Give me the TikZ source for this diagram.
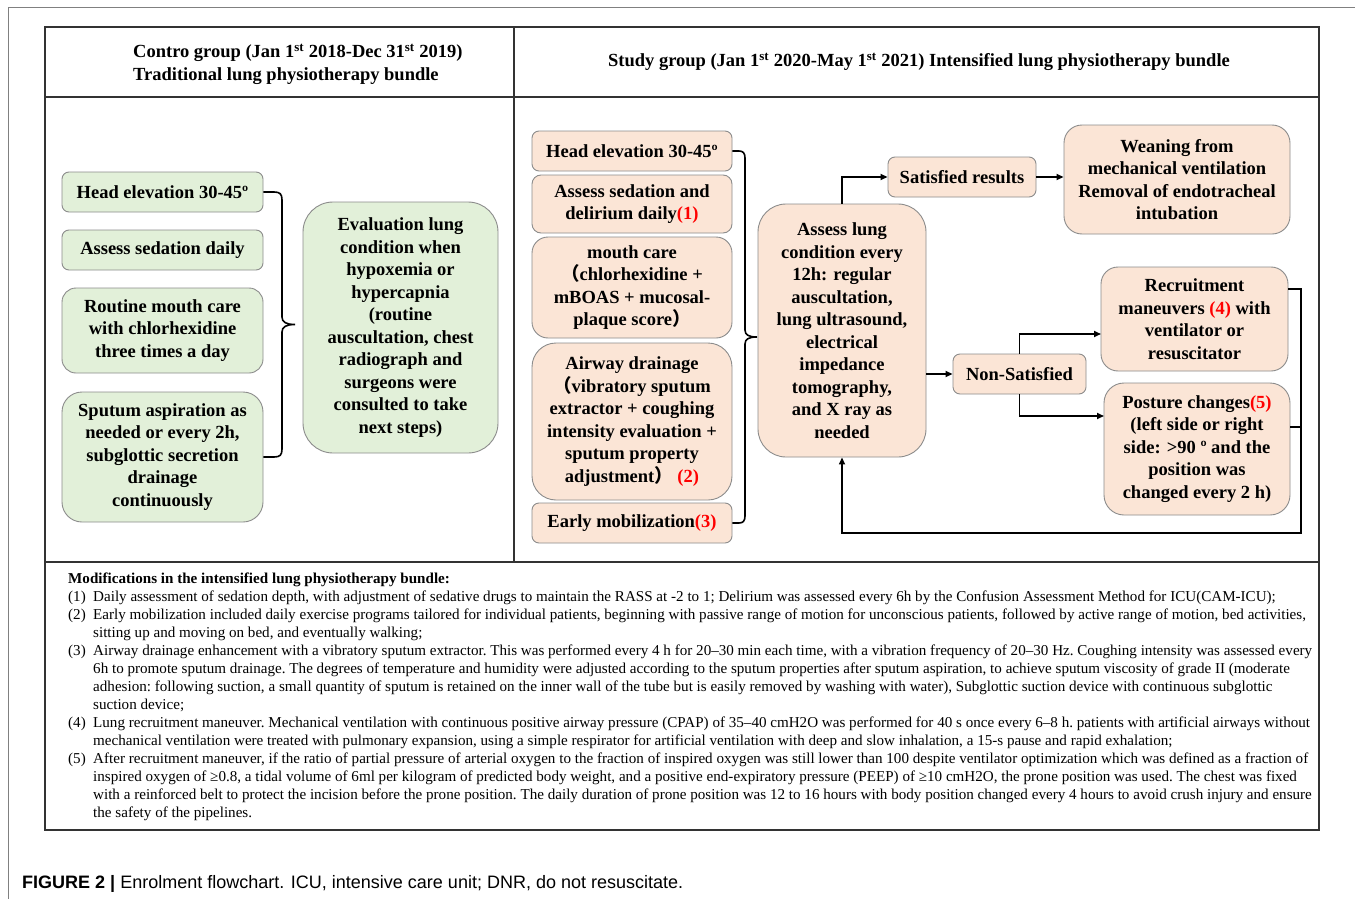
\documentclass[tikz,border=0pt]{standalone}
\usepackage{fontspec}
\setmainfont{Liberation Serif}
\newfontfamily\capfont{Liberation Sans}
\newfontfamily\cjkfont{Noto Sans CJK SC}
\usetikzlibrary{arrows.meta,calc}
\definecolor{gfill}{HTML}{E2F0D9}
\definecolor{pfill}{HTML}{FBE5D6}
\definecolor{bgray}{HTML}{8C8C8C}
\definecolor{numred}{HTML}{FF0000}
\definecolor{tblline}{HTML}{333333}
\newcommand{\rednum}[1]{\textcolor{numred}{#1}}
\newcommand{\fwlp}{{\cjkfont （}}
\newcommand{\fwrp}{{\cjkfont ）}}
\newcommand{\bxfont}{\bfseries\fontsize{18.5}{22.5}\selectfont}
\newcommand{\hdfont}{\bfseries\fontsize{18.5}{23}\selectfont}
\newcommand{\ntfont}{\frenchspacing\fontsize{15.1}{18}\selectfont}
\tikzset{
  box/.style={draw=bgray, line width=0.9pt, align=center, font=\bxfont, inner sep=2pt},
  gbox/.style={box, fill=gfill},
  pbox/.style={box, fill=pfill},
  tbl/.style={draw=tblline, line width=1.6pt},
  arr/.style={line width=1.6pt, -{Triangle[length=7pt,width=6pt]}},
  link/.style={line width=1.6pt},
  brace/.style={line width=1.6pt},
  note/.style={anchor=base west, inner sep=0pt, font=\ntfont},
}
\begin{document}
\begin{tikzpicture}[x=1pt,y=-1pt]
\fill[white] (0,0) rectangle (1355,899);
\useasboundingbox (0,0) rectangle (1355,899);
% outer page lines
\draw[gray, line width=1pt] (8,899) -- (8,8) -- (1355,8);
% table
\draw[tbl] (45,27) rectangle (1319,830);
\draw[tbl] (45,97) -- (1319,97);
\draw[tbl] (45,562) -- (1319,562);
\draw[tbl] (514,27) -- (514,562);
% headers
\node[anchor=west, align=left, font=\hdfont, inner sep=0pt] (hl) at (133,64.5)
  {Contro group (Jan 1\textsuperscript{st} 2018-Dec 31\textsuperscript{st} 2019)\\Traditional lung physiotherapy bundle};
\node[font=\hdfont, inner sep=0pt] (hr) at (919,62)
  {Study group (Jan 1\textsuperscript{st} 2020-May 1\textsuperscript{st} 2021) Intensified lung physiotherapy bundle};

% left column (control)
\node[gbox, rounded corners=7pt, minimum width=201pt, minimum height=40pt] (lhead) at (162.5,192) {Head elevation 30-45º};
\node[gbox, rounded corners=7pt, minimum width=201pt, minimum height=40pt] (lsed) at (162.5,250) {Assess sedation daily};
\node[gbox, rounded corners=14pt, minimum width=201pt, minimum height=85pt] (lmouth) at (162.5,330.5) {Routine mouth care\\with chlorhexidine\\three times a day};
\node[gbox, rounded corners=20pt, minimum width=201pt, minimum height=130pt] (lsput) at (162.5,457) {Sputum aspiration as\\needed or every 2h,\\subglottic secretion\\drainage\\continuously};
\node[gbox, rounded corners=30pt, minimum width=195pt, minimum height=251pt] (leval) at (400.5,327.5) {Evaluation lung\\condition when\\hypoxemia or\\hypercapnia\\(routine\\auscultation, chest\\radiograph and\\surgeons were\\consulted to take\\next steps)};
\draw[brace] (lhead.east) -- (274,192) .. controls (280,192) and (282,194) .. (282,200)
  -- (282,317) .. controls (282,322) and (286,324.5) .. (295,324.5)
  .. controls (286,324.5) and (282,327) .. (282,332)
  -- (282,449) .. controls (282,455) and (280,457) .. (274,457) -- (lsput.east);

% right column (study)
\node[pbox, rounded corners=7pt, minimum width=200pt, minimum height=40pt] (rhead) at (632,151) {Head elevation 30-45º};
\node[pbox, rounded corners=9pt, minimum width=200pt, minimum height=58pt] (rsed) at (632,204) {Assess sedation and\\delirium daily\rednum{(1)}};
\node[pbox, rounded corners=16pt, minimum width=200pt, minimum height=101pt] (rmouth) at (632,287.5) {mouth care\\\fwlp chlorhexidine +\\mBOAS + mucosal-\\plaque score\fwrp};
\node[pbox, rounded corners=24pt, minimum width=200pt, minimum height=157pt] (rair) at (632,421.5) {Airway drainage\\\fwlp vibratory sputum\\extractor + coughing\\intensity evaluation +\\sputum property\\adjustment\fwrp\ \rednum{(2)}};
\node[pbox, rounded corners=7pt, minimum width=200pt, minimum height=40pt] (rmob) at (632,523) {Early mobilization\rednum{(3)}};
\draw[brace] (rhead.east) -- (739,151) .. controls (743,151) and (745,153) .. (745,158)
  -- (745,330) .. controls (745,335) and (749,337) .. (757,337)
  .. controls (749,337) and (745,339) .. (745,344)
  -- (745,516) .. controls (745,521) and (743,523) .. (739,523) -- (rmob.east);

\node[pbox, rounded corners=28pt, minimum width=168pt, minimum height=253pt] (assess) at (842,330.5) {Assess lung\\condition every\\12h: regular\\auscultation,\\lung ultrasound,\\electrical\\impedance\\tomography,\\and X ray as\\needed};
\node[pbox, rounded corners=7pt, minimum width=148pt, minimum height=40pt] (sat) at (962,177) {Satisfied results};
\node[pbox, rounded corners=18pt, minimum width=226pt, minimum height=109pt] (wean) at (1177,179.5) {Weaning from\\mechanical ventilation\\Removal of endotracheal\\intubation};
\node[pbox, rounded corners=7pt, minimum width=133pt, minimum height=40pt] (nonsat) at (1019.5,374) {Non-Satisfied};
\node[pbox, rounded corners=17pt, minimum width=187pt, minimum height=104pt] (recr) at (1194.5,319) {Recruitment\\maneuvers \rednum{(4)} with\\ventilator or\\resuscitator};
\node[pbox, rounded corners=20pt, minimum width=186pt, minimum height=132pt] (post) at (1197,449) {Posture changes\rednum{(5)}\\(left side or right\\side: >90 º and the\\position was\\changed every 2 h)};

% connectors
\draw[arr] (assess.north) |- (sat.west);
\draw[arr] (sat.east) -- (sat.east -| wean.west);
\draw[arr] (nonsat.west -| assess.east) -- (nonsat.west);
\coordinate (recrIn) at (1101,334);
\coordinate (postIn) at (1104,416);
\draw[arr] (nonsat.north) |- (recrIn);
\draw[arr] (nonsat.south) |- (postIn);
\coordinate (recrOut) at (1288,289);
\coordinate (postOut) at (1290,427);
\coordinate (retR) at (1301,533);
\draw[link] (postOut) -- (1301,427);
\draw[arr] (recrOut) -- (1301,289) -- (retR) -| (assess.south);

% notes
\node[note] (t0) at (68,583) {\bfseries Modifications in the intensified lung physiotherapy bundle:};
\node[note] (n1) at (68,601) {(1)};
\node[note] (t1) at (93,601) {Daily assessment of sedation depth, with adjustment of sedative drugs to maintain the RASS at -2 to 1; Delirium was assessed every 6h by the Confusion Assessment Method for ICU(CAM-ICU);};
\node[note] (n2) at (68,619) {(2)};
\node[note] (t2) at (93,619) {Early mobilization included daily exercise programs tailored for individual patients, beginning with passive range of motion for unconscious patients, followed by active range of motion, bed activities,};
\node[note] (t3) at (93,637) {sitting up and moving on bed, and eventually walking;};
\node[note] (n3) at (68,655) {(3)};
\node[note] (t4) at (93,655) {Airway drainage enhancement with a vibratory sputum extractor. This was performed every 4 h for 20–30 min each time, with a vibration frequency of 20–30 Hz. Coughing intensity was assessed every};
\node[note] (t5) at (93,673) {6h to promote sputum drainage. The degrees of temperature and humidity were adjusted according to the sputum properties after sputum aspiration, to achieve sputum viscosity of grade II (moderate};
\node[note] (t6) at (93,691) {adhesion: following suction, a small quantity of sputum is retained on the inner wall of the tube but is easily removed by washing with water), Subglottic suction device with continuous subglottic};
\node[note] (t7) at (93,709) {suction device;};
\node[note] (n4) at (68,727) {(4)};
\node[note] (t8) at (93,727) {Lung recruitment maneuver. Mechanical ventilation with continuous positive airway pressure (CPAP) of 35–40 cmH2O was performed for 40 s once every 6–8 h. patients with artificial airways without};
\node[note] (t9) at (93,745) {mechanical ventilation were treated with pulmonary expansion, using a simple respirator for artificial ventilation with deep and slow inhalation, a 15-s pause and rapid exhalation;};
\node[note] (n5) at (68,763) {(5)};
\node[note] (t10) at (93,763) {After recruitment maneuver, if the ratio of partial pressure of arterial oxygen to the fraction of inspired oxygen was still lower than 100 despite ventilator optimization which was defined as a fraction of};
\node[note] (t11) at (93,781) {inspired oxygen of ≥0.8, a tidal volume of 6ml per kilogram of predicted body weight, and a positive end-expiratory pressure (PEEP) of ≥10 cmH2O, the prone position was used. The chest was fixed};
\node[note] (t12) at (93,799) {with a reinforced belt to protect the incision before the prone position. The daily duration of prone position was 12 to 16 hours with body position changed every 4 hours to avoid crush injury and ensure};
\node[note] (t13) at (93,817) {the safety of the pipelines.};

% caption
\node[anchor=base west, inner sep=0pt, font=\capfont\fontsize{18}{21}\selectfont] (cap) at (22,888)
  {\textbf{FIGURE 2 |} Enrolment flowchart. ICU, intensive care unit; DNR, do not resuscitate.};
\end{tikzpicture}
\end{document}
